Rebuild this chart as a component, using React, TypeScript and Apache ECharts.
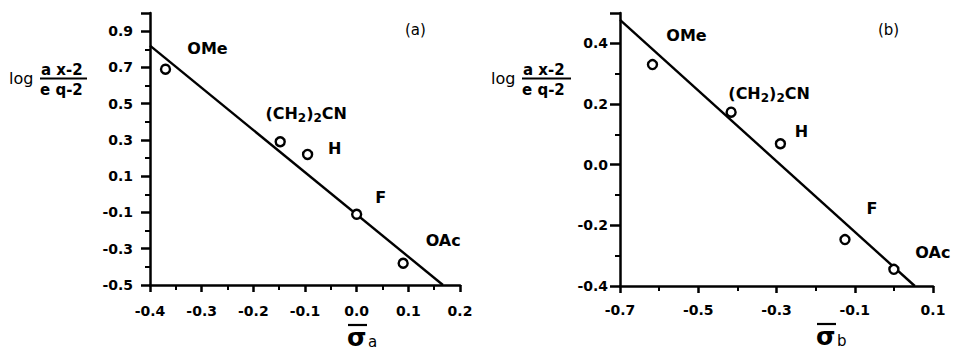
import React, { useEffect, useRef } from "react";
import * as echarts from "echarts";

// Panel (a)
const substituentsA = ["OMe", "(CH2)2CN", "H", "F", "OAc"];
const sigmaA = [-0.37, -0.148, -0.095, 0.0, 0.09];
const logA = [0.69, 0.29, 0.22, -0.11, -0.38];
const fitAx = [-0.4, 0.167];
const fitAy = [0.82, -0.5];

// Panel (b)
const substituentsB = ["OMe", "(CH2)2CN", "H", "F", "OAc"];
const sigmaB = [-0.617, -0.416, -0.29, -0.125, 0.0];
const logB = [0.33, 0.173, 0.069, -0.247, -0.345];
const fitBx = [-0.7, 0.0535];
const fitBy = [0.477, -0.4];

// label offsets (style)
const offsetsA = [[42, -21], [26, -28], [27, -6], [24, -17], [40, -23]];
const offsetsB = [[34, -29], [38, -19], [21, -12], [27, -31], [39, -17]];

const FONT = "DejaVu Sans, Verdana, sans-serif";

function fmtName(n: string) {
  return n === "(CH2)2CN" ? "(CH{s|2}){s|2}CN" : n;
}

function makeScatter(xs: number[], ys: number[], names: string[], offs: number[][], idx: number) {
  return {
    type: "scatter",
    xAxisIndex: idx,
    yAxisIndex: idx,
    symbol: "circle",
    symbolSize: 9,
    itemStyle: { color: "#fff", borderColor: "#000", borderWidth: 2.4, opacity: 1 },
    z: 3,
    data: xs.map((x, i) => ({
      value: [x, ys[i]],
      label: {
        show: true,
        position: "inside",
        offset: offs[i],
        formatter: fmtName(names[i]),
        color: "#000",
        opacity: 1,
        textBorderWidth: 0,
        fontFamily: FONT,
        fontSize: 16,
        fontWeight: "bold",
        rich: {
          s: { fontSize: 12, fontWeight: "bold", fontFamily: FONT, color: "#000", textBorderWidth: 0, padding: [9, 0, 0, 0] },
        },
      },
    })),
  };
}

function makeFit(xs: number[], ys: number[], idx: number) {
  return {
    type: "line",
    xAxisIndex: idx,
    yAxisIndex: idx,
    symbol: "none",
    lineStyle: { color: "#000", width: 2.4 },
    data: xs.map((x, i) => [x, ys[i]]),
    z: 2,
  };
}

function axisCommon(min: number, max: number, interval: number, margin: number, tickLen: number) {
  return {
    type: "value",
    min,
    max,
    interval,
    axisLine: { show: true, onZero: false, lineStyle: { color: "#000", width: 2.5 } },
    axisTick: { show: true, length: tickLen, lineStyle: { color: "#000", width: 2.5 } },
    minorTick: { show: true, splitNumber: 2, length: 5, lineStyle: { color: "#000", width: 2 } },
    splitLine: { show: false },
    axisLabel: {
      color: "#000",
      fontFamily: FONT,
      fontSize: 14,
      fontWeight: "bold",
      margin,
      formatter: (v: number) => {
        const steps = (max - min) / interval;
        if (Math.abs(v - max) < 1e-9 && Math.abs(steps - Math.round(steps)) > 1e-6) return "";
        if (Math.abs(v) < 1e-9) return "0.0";
        return v.toFixed(1);
      },
    },
  };
}

function yLabel(x: number, w: number) {
  return [
    { type: "text", x, y: 78, style: { text: "log", font: `16px ${FONT}`, fill: "#000", verticalAlign: "middle" } },
    { type: "text", x: x + 32, y: 70, style: { text: "a x-2", font: `bold 15px ${FONT}`, fill: "#000", verticalAlign: "middle" } },
    { type: "line", shape: { x1: x + 31, y1: 78.5, x2: x + 31 + w, y2: 78.5 }, style: { stroke: "#000", lineWidth: 1.8 } },
    { type: "text", x: x + 31, y: 90, style: { text: "e q-2", font: `bold 15px ${FONT}`, fill: "#000", verticalAlign: "middle" } },
  ];
}

function sigmaLabel(x: number, y: number, sub: string) {
  return [
    { type: "text", x: x - 1, y: y + 12, style: { text: "σ", font: `bold 25px ${FONT}`, fill: "#000", verticalAlign: "middle" } },
    { type: "line", shape: { x1: x, y1: y, x2: x + 19, y2: y }, style: { stroke: "#000", lineWidth: 2.2 } },
    { type: "text", x: x + 20, y: y + 17, style: { text: sub, font: `15px ${FONT}`, fill: "#000", verticalAlign: "middle" } },
  ];
}

export default function App() {
  const ref = useRef<HTMLDivElement>(null);
  useEffect(() => {
    if (!ref.current) return;
    const chart = echarts.init(ref.current, null, { renderer: "svg" });
    chart.setOption({
      animation: false,
      backgroundColor: "#fff",
      grid: [
        { left: 150, top: 13, width: 310, height: 272 },
        { left: 620, top: 13, width: 313, height: 273 },
      ],
      xAxis: [
        { ...axisCommon(-0.4, 0.2, 0.1, 19, 7), gridIndex: 0 },
        { ...axisCommon(-0.7, 0.1, 0.2, 17, 7), gridIndex: 1 },
      ],
      yAxis: [
        { ...axisCommon(-0.5, 1.0, 0.2, 17, 9), gridIndex: 0 },
        { ...axisCommon(-0.4, 0.5, 0.2, 12, 10), gridIndex: 1 },
      ],
      series: [
        makeFit(fitAx, fitAy, 0),
        makeScatter(sigmaA, logA, substituentsA, offsetsA, 0),
        makeFit(fitBx, fitBy, 1),
        makeScatter(sigmaB, logB, substituentsB, offsetsB, 1),
      ],
      graphic: [
        { type: "text", x: 405, y: 30, style: { text: "(a)", font: `15px ${FONT}`, fill: "#000", verticalAlign: "middle" } },
        { type: "text", x: 878, y: 30, style: { text: "(b)", font: `15px ${FONT}`, fill: "#000", verticalAlign: "middle" } },
        ...yLabel(9, 47),
        ...yLabel(491, 49),
        ...sigmaLabel(348, 325, "a"),
        ...sigmaLabel(817, 324, "b"),
      ],
    });
    return () => chart.dispose();
  }, []);
  return <div ref={ref} style={{ width: 953, height: 351, position: "absolute", left: 0, top: 0 }} />;
}
